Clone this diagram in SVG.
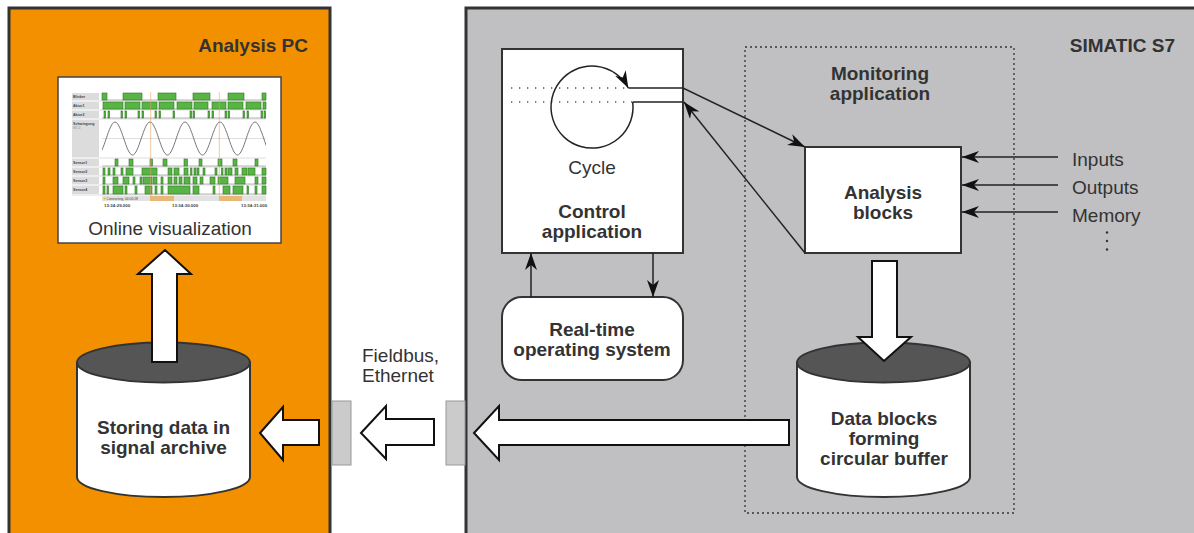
<svg xmlns="http://www.w3.org/2000/svg" width="1194" height="533" viewBox="0 0 1194 533">
<defs>
<style>
.t{font-family:"Liberation Sans",Arial,sans-serif;font-size:19px;fill:#333}
.b{font-weight:bold}
.m{text-anchor:middle}
.ln{stroke:#222;stroke-width:1.5;fill:none}
.blk{fill:#fff;stroke:#111;stroke-width:2;stroke-linejoin:miter}
.box{fill:#fff;stroke:#333;stroke-width:2}
.dots{stroke:#555;stroke-width:1.3;stroke-dasharray:1.3 6.7;fill:none}
.lab{fill:#dcdcdc}
.lt{font-family:"Liberation Sans",Arial,sans-serif;font-size:3.6px;font-weight:bold;fill:#444}
.g{fill:#58b444;stroke:#2f7a22;stroke-width:0.6}
.sep{stroke:#c8c8c8;stroke-width:0.6}
.base{stroke:#888;stroke-width:0.6}
</style>
<marker id="arr" viewBox="0 0 17 12" refX="17" refY="6" markerWidth="17" markerHeight="12" orient="auto" markerUnits="userSpaceOnUse">
<path d="M0,0 L17,6 L0,12 L5,6 Z" fill="#111"/>
</marker>
<clipPath id="plot"><rect x="102" y="90" width="164" height="70"/></clipPath>
</defs>

<g id="analysis-pc">
<rect x="9" y="8" width="321" height="540" fill="#f39000" stroke="#333" stroke-width="3"/>
<text class="t b" x="308" y="52" text-anchor="end">Analysis PC</text>
</g>

<g id="simatic-s7">
<rect x="466" y="8" width="740" height="540" fill="#c0c0c2" stroke="#333" stroke-width="3"/>
<text class="t b" x="1175" y="52" text-anchor="end">SIMATIC S7</text>
</g>

<g id="monitoring-application">
<rect x="745" y="47" width="269" height="466" fill="none" stroke="#333" stroke-width="1.3" stroke-dasharray="2 3"/>
<text class="t b m" x="880" y="80">Monitoring</text>
<text class="t b m" x="880" y="100">application</text>
</g>

<g id="online-visualization">
<rect x="58" y="77" width="223" height="166" fill="#fff" stroke="#444" stroke-width="1.5"/>
<rect class="lab" x="72" y="93" width="27" height="7"/>
<rect class="lab" x="72" y="102" width="27" height="7"/>
<rect class="lab" x="72" y="111" width="27" height="7"/>
<rect class="lab" x="72" y="120" width="27" height="37"/>
<rect class="lab" x="72" y="159" width="27" height="7"/>
<rect class="lab" x="72" y="168" width="27" height="7"/>
<rect class="lab" x="72" y="177" width="27" height="7"/>
<rect class="lab" x="72" y="186" width="27" height="8"/>
<text class="lt" x="73" y="97.5">Blinker</text>
<text class="lt" x="73" y="106.5">Aktor1</text>
<text class="lt" x="73" y="115.5">Aktor2</text>
<text class="lt" x="73" y="124.5">Schwingung</text>
<text class="lt" x="73" y="129" style="font-weight:normal;fill:#999">MC4</text>
<text class="lt" x="73" y="163.5">Sensor1</text>
<text class="lt" x="73" y="172.5">Sensor2</text>
<text class="lt" x="73" y="181.5">Sensor3</text>
<text class="lt" x="73" y="191">Sensor4</text>
<line class="sep" x1="72" y1="101" x2="266" y2="101"/>
<line class="sep" x1="72" y1="110" x2="266" y2="110"/>
<line class="sep" x1="72" y1="119" x2="266" y2="119"/>
<line class="sep" x1="72" y1="158" x2="266" y2="158"/>
<line class="sep" x1="72" y1="167" x2="266" y2="167"/>
<line class="sep" x1="72" y1="176" x2="266" y2="176"/>
<line class="sep" x1="72" y1="185" x2="266" y2="185"/>
<line class="sep" x1="72" y1="195" x2="266" y2="195"/>
<line class="base" x1="102" y1="100" x2="266" y2="100"/>
<line class="base" x1="102" y1="109" x2="266" y2="109"/>
<line class="base" x1="102" y1="118" x2="266" y2="118"/>
<line class="base" x1="102" y1="166" x2="266" y2="166"/>
<line class="base" x1="102" y1="175" x2="266" y2="175"/>
<line class="base" x1="102" y1="184" x2="266" y2="184"/>
<line class="base" x1="102" y1="194" x2="266" y2="194"/>
<line class="sep" x1="102" y1="138.5" x2="266" y2="138.5"/>
<g class="g">
<rect x="102" y="93" width="5" height="7"/><rect x="123" y="93" width="19" height="7"/><rect x="158" y="93" width="18" height="7"/><rect x="193" y="93" width="17" height="7"/><rect x="228" y="93" width="16" height="7"/><rect x="262" y="93" width="4" height="7"/>
<rect x="103" y="102" width="20" height="7"/><rect x="125" y="102" width="15" height="7"/><rect x="142" y="102" width="15" height="7"/><rect x="159" y="102" width="15" height="7"/><rect x="177" y="102" width="15" height="7"/><rect x="194" y="102" width="14" height="7"/><rect x="212" y="102" width="14" height="7"/><rect x="228" y="102" width="15" height="7"/><rect x="246" y="102" width="15" height="7"/><rect x="263" y="102" width="3" height="7"/>
<rect x="104" y="111" width="1.6" height="7"/><rect x="108" y="111" width="1.6" height="7"/><rect x="121" y="111" width="1.6" height="7"/><rect x="125" y="111" width="1.6" height="7"/><rect x="138" y="111" width="1.6" height="7"/><rect x="142" y="111" width="1.6" height="7"/><rect x="155" y="111" width="1.6" height="7"/><rect x="159" y="111" width="1.6" height="7"/><rect x="173" y="111" width="1.6" height="7"/><rect x="190" y="111" width="1.6" height="7"/><rect x="193" y="111" width="1.6" height="7"/><rect x="208" y="111" width="1.6" height="7"/><rect x="212" y="111" width="1.6" height="7"/><rect x="225" y="111" width="1.6" height="7"/><rect x="228" y="111" width="1.6" height="7"/><rect x="243" y="111" width="1.6" height="7"/><rect x="247" y="111" width="1.6" height="7"/><rect x="261" y="111" width="1.6" height="7"/><rect x="264" y="111" width="1.6" height="7"/>
<rect x="115" y="159" width="3" height="7"/><rect x="129" y="159" width="4" height="7"/><rect x="150" y="159" width="2.5" height="7"/><rect x="163" y="159" width="4" height="7"/><rect x="184" y="159" width="3.5" height="7"/><rect x="199" y="159" width="3" height="7"/><rect x="218" y="159" width="4" height="7"/><rect x="233" y="159" width="4" height="7"/><rect x="255" y="159" width="3" height="7"/>
<rect x="103" y="168" width="2" height="7"/><rect x="108" y="168" width="2" height="7"/><rect x="113" y="168" width="2" height="7"/><rect x="121" y="168" width="2" height="7"/><rect x="126" y="168" width="7" height="7"/><rect x="142" y="168" width="15" height="7"/><rect x="168" y="168" width="4" height="7"/><rect x="174" y="168" width="5" height="7"/><rect x="184" y="168" width="4" height="7"/><rect x="190.5" y="168" width="1.5" height="7"/><rect x="194" y="168" width="2" height="7"/><rect x="197" y="168" width="2" height="7"/><rect x="203" y="168" width="2" height="7"/><rect x="215" y="168" width="2" height="7"/><rect x="221.5" y="168" width="1.5" height="7"/><rect x="225" y="168" width="2" height="7"/><rect x="228" y="168" width="4" height="7"/><rect x="235" y="168" width="3" height="7"/><rect x="242" y="168" width="5" height="7"/><rect x="248" y="168" width="7" height="7"/><rect x="262" y="168" width="4" height="7"/>
<rect x="103" y="177" width="2" height="7"/><rect x="113" y="177" width="5" height="7"/><rect x="123" y="177" width="6" height="7"/><rect x="133" y="177" width="2" height="7"/><rect x="140" y="177" width="2" height="7"/><rect x="143" y="177" width="9" height="7"/><rect x="153" y="177" width="4" height="7"/><rect x="161" y="177" width="2" height="7"/><rect x="168" y="177" width="4" height="7"/><rect x="174" y="177" width="3" height="7"/><rect x="179" y="177" width="3" height="7"/><rect x="184" y="177" width="6" height="7"/><rect x="193" y="177" width="4" height="7"/><rect x="200" y="177" width="3" height="7"/><rect x="210" y="177" width="5" height="7"/><rect x="218" y="177" width="10" height="7"/><rect x="235" y="177" width="10" height="7"/><rect x="255" y="177" width="3" height="7"/><rect x="262" y="177" width="4" height="7"/>
<rect x="103" y="186" width="2" height="8"/><rect x="107" y="186" width="1.5" height="8"/><rect x="113" y="186" width="10" height="8"/><rect x="125" y="186" width="2" height="8"/><rect x="135" y="186" width="2" height="8"/><rect x="145" y="186" width="7" height="8"/><rect x="155" y="186" width="2" height="8"/><rect x="161" y="186" width="2" height="8"/><rect x="168" y="186" width="22" height="8"/><rect x="193" y="186" width="6" height="8"/><rect x="213" y="186" width="2" height="8"/><rect x="223" y="186" width="7" height="8"/><rect x="233" y="186" width="10" height="8"/><rect x="247" y="186" width="1.5" height="8"/><rect x="255" y="186" width="2" height="8"/><rect x="262" y="186" width="4" height="8"/>
</g>
<path clip-path="url(#plot)" d="M97.5,155 C103.87,155 108.63,122 115,122 S126.13,155 132.5,155 S143.63,122 150,122 S161.13,155 167.5,155 S178.63,122 185,122 S196.13,155 202.5,155 S213.63,122 220,122 S231.13,155 237.5,155 S248.63,122 255,122 S266.13,155 272.5,155" fill="none" stroke="#555" stroke-width="0.8"/>
<line x1="150.7" y1="92" x2="150.7" y2="197" stroke="#e6a46a" stroke-width="0.6"/>
<line x1="219.3" y1="92" x2="219.3" y2="197" stroke="#e6a46a" stroke-width="0.6"/>
<rect x="102" y="196" width="164" height="5" fill="#e2e2e2"/>
<rect x="150" y="196" width="24" height="5" fill="#e8b878"/>
<rect x="219" y="196" width="23" height="5" fill="#e8b878"/>
<circle cx="104.5" cy="198.5" r="1.1" fill="#e0c020"/>
<text class="lt" x="106.5" y="199.8" style="font-weight:normal;font-size:3.3px">Connecting, 00:00:28</text>
<text class="lt" x="104" y="207" style="font-size:4.4px">13:34:29.000</text>
<text class="lt" x="172" y="207" style="font-size:4.4px">13:34:30.000</text>
<text class="lt" x="241" y="207" style="font-size:4.4px">13:34:31.000</text>
<text class="t m" x="170" y="235">Online visualization</text>
</g>

<g id="signal-archive">
<path d="M77,362.5 L77,477 A86.5,20 0 0 0 250,477 L250,362.5 Z" fill="#fff" stroke="#333" stroke-width="2"/>
<ellipse cx="163.5" cy="362.5" rx="86.5" ry="20" fill="#555" stroke="#333" stroke-width="2"/>
<text class="t b m" x="163.5" y="434">Storing data in</text>
<text class="t b m" x="163.5" y="454">signal archive</text>
</g>

<g id="control-application">
<rect class="box" x="502" y="49" width="181" height="204"/>
<text class="t m" x="592" y="174">Cycle</text>
<text class="t b m" x="592" y="217.5">Control</text>
<text class="t b m" x="592" y="237.5">application</text>
</g>

<g id="rtos">
<rect class="box" x="502" y="297" width="181" height="83" rx="20" ry="20"/>
<text class="t b m" x="592" y="335.5">Real-time</text>
<text class="t b m" x="592" y="356">operating system</text>
</g>

<g id="analysis-blocks">
<rect class="box" x="805" y="147" width="156" height="106"/>
<text class="t b m" x="883" y="199">Analysis</text>
<text class="t b m" x="883" y="219">blocks</text>
</g>

<g id="circular-buffer">
<path d="M797,362.5 L797,477 A86.5,20 0 0 0 970,477 L970,362.5 Z" fill="#fff" stroke="#333" stroke-width="2"/>
<ellipse cx="883.5" cy="362.5" rx="86.5" ry="20" fill="#555" stroke="#333" stroke-width="2"/>
<text class="t b m" x="884" y="424.5">Data blocks</text>
<text class="t b m" x="884" y="444.5">forming</text>
<text class="t b m" x="884" y="465">circular buffer</text>
</g>

<g id="interfaces">
<rect x="332" y="401" width="19" height="64" fill="#cbcbcb" stroke="#999" stroke-width="1"/>
<rect x="446" y="401" width="19" height="64" fill="#cbcbcb" stroke="#999" stroke-width="1"/>
<text class="t" x="362" y="362">Fieldbus,</text>
<text class="t" x="362" y="382">Ethernet</text>
</g>

<g id="signals">
<text class="t" x="1072" y="166">Inputs</text>
<text class="t" x="1072" y="194">Outputs</text>
<text class="t" x="1072" y="222">Memory</text>
<circle cx="1107" cy="232.5" r="1.2" fill="#333"/>
<circle cx="1107" cy="241" r="1.2" fill="#333"/>
<circle cx="1107" cy="249.5" r="1.2" fill="#333"/>
</g>

<g id="connectors">
<line class="dots" x1="511" y1="88" x2="627" y2="88"/>
<line class="dots" x1="511" y1="102" x2="632" y2="102"/>
<path class="ln" d="M632.7,102 A41,41 0 1 1 628.3,88" marker-end="url(#arr)"/>
<polyline class="ln" points="628.3,88 683,88 805,147" marker-end="url(#arr)"/>
<line class="ln" x1="632.7" y1="102" x2="683" y2="102"/>
<line class="ln" x1="805" y1="253" x2="684" y2="102" marker-end="url(#arr)"/>
<line class="ln" x1="531" y1="297" x2="531" y2="253" marker-end="url(#arr)"/>
<line class="ln" x1="653" y1="253" x2="653" y2="297" marker-end="url(#arr)"/>
<line class="ln" x1="1058" y1="157" x2="962" y2="157" marker-end="url(#arr)"/>
<line class="ln" x1="1058" y1="185" x2="962" y2="185" marker-end="url(#arr)"/>
<line class="ln" x1="1058" y1="212" x2="962" y2="212" marker-end="url(#arr)"/>
<polygon class="blk" points="152,362 152,274 138,274 165,250 191,274 177,274 177,362"/>
<polygon class="blk" points="872,261 897,261 897,337 911,337 884,361 858,337 872,337"/>
<polygon class="blk" points="260,433 283,407 283,420 319,420 319,445 283,445 283,460"/>
<polygon class="blk" points="361,433 386,406 386,419 434,419 434,445 386,445 386,459"/>
<polygon class="blk" points="474,433 499,406 499,420 789,420 789,445 499,445 499,460"/>
</g>
</svg>
